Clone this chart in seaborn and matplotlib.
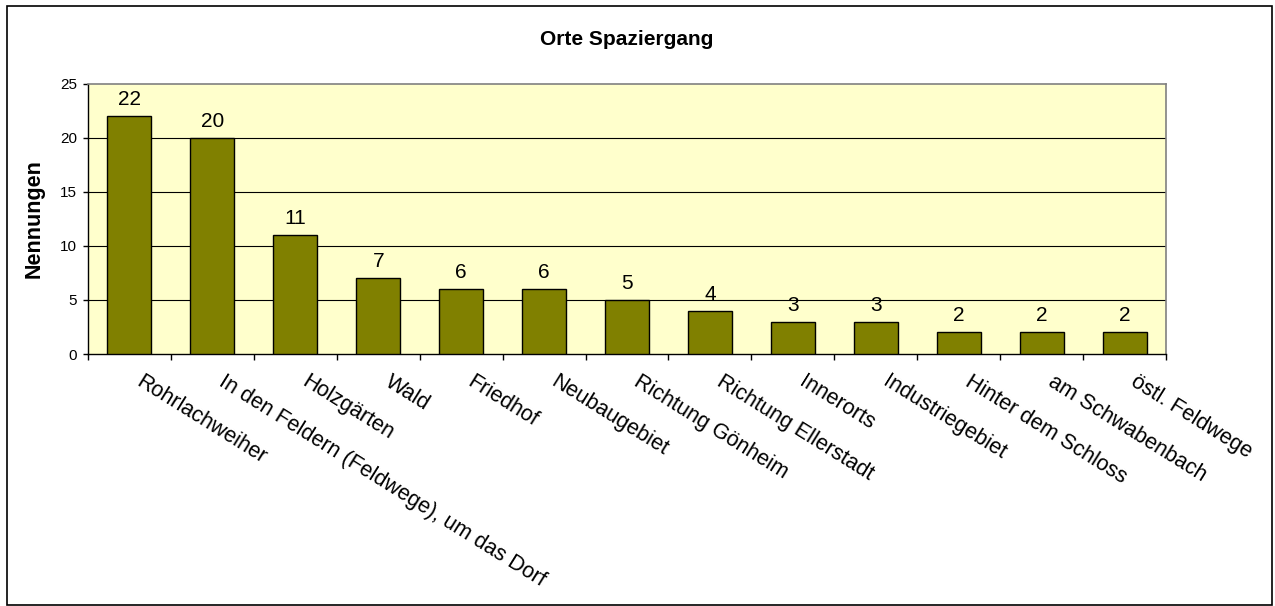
import matplotlib
matplotlib.use("Agg")
import matplotlib.pyplot as plt
import matplotlib.transforms as mtransforms
import seaborn as sns
import pandas as pd
from matplotlib.patches import Rectangle

categories = ["Rohrlachweiher", "In den Feldern (Feldwege), um das Dorf", "Holzgärten",
              "Wald", "Friedhof", "Neubaugebiet", "Richtung Gönheim", "Richtung Ellerstadt",
              "Innerorts", "Industriegebiet", "Hinter dem Schloss", "am Schwabenbach",
              "östl. Feldwege"]
values = [22, 20, 11, 7, 6, 6, 5, 4, 3, 3, 2, 2, 2]
yticks = [0, 5, 10, 15, 20, 25]

sns.set_theme(style="white")
plt.rcParams['font.family'] = ['Liberation Sans', 'DejaVu Sans']
plt.rcParams['text.color'] = 'black'
plt.rcParams['axes.labelcolor'] = 'black'
plt.rcParams['xtick.color'] = 'black'
plt.rcParams['ytick.color'] = 'black'

df = pd.DataFrame({"Ort": categories, "Nennungen": values})

fig = plt.figure(figsize=(12.75, 6.06), dpi=100)
ax = fig.add_axes([88/1275, 1 - 354/606, (1166-88)/1275, (354-84)/606])
ax.set_facecolor("#FFFFCC")

sns.barplot(data=df, x="Ort", y="Nennungen", color="#808000", width=0.53,
            edgecolor="black", linewidth=1.0, saturation=1, ax=ax, zorder=3)

ax.set_ylim(0, 25)
ax.set_xlim(-0.5, len(categories) - 0.5)
ax.set_yticks(yticks)
ax.set_yticklabels([str(t) for t in yticks], fontsize=11)
for t in yticks[1:-1]:
    ax.axhline(t, color="black", linewidth=0.8, zorder=1)

# x ticks at category boundaries
ax.set_xticks([i - 0.5 for i in range(len(categories) + 1)], minor=True)
ax.set_xticks(range(len(categories)))
ax.set_xticklabels(categories, rotation=-32, ha="left", va="top", rotation_mode="anchor",
                   fontsize=15.5)
ax.tick_params(axis="x", which="major", length=0, pad=12.5)
ax.tick_params(axis="x", which="minor", length=4.5, width=1, direction="out", bottom=True)
ax.tick_params(axis="y", length=3.5, width=1, direction="out", left=True, pad=4.5)
offset = mtransforms.ScaledTranslation(14/100, 0, fig.dpi_scale_trans)
for lab in ax.get_xticklabels():
    lab.set_transform(lab.get_transform() + offset)

for spine in ["left", "bottom"]:
    ax.spines[spine].set_color("black")
    ax.spines[spine].set_linewidth(1.0)
for spine in ["top", "right"]:
    ax.spines[spine].set_color("#808080")
    ax.spines[spine].set_linewidth(1.2)

for c in ax.containers:
    ax.bar_label(c, labels=[str(v) for v in values], padding=5, fontsize=15)

ax.set_xlabel("")
ax.set_ylabel("Nennungen", fontsize=15.5, fontweight="bold", labelpad=11)
ax.set_title("Orte Spaziergang", fontsize=15, fontweight="bold", pad=28)

fig.patches.append(Rectangle((7/1275, 0.002), 1 - 7/1275 - 0.002, 1 - 6/606 - 0.002,
                             transform=fig.transFigure, fill=False, edgecolor="black",
                             linewidth=1.2))

fig.savefig("out.png", dpi=100, facecolor="white")
